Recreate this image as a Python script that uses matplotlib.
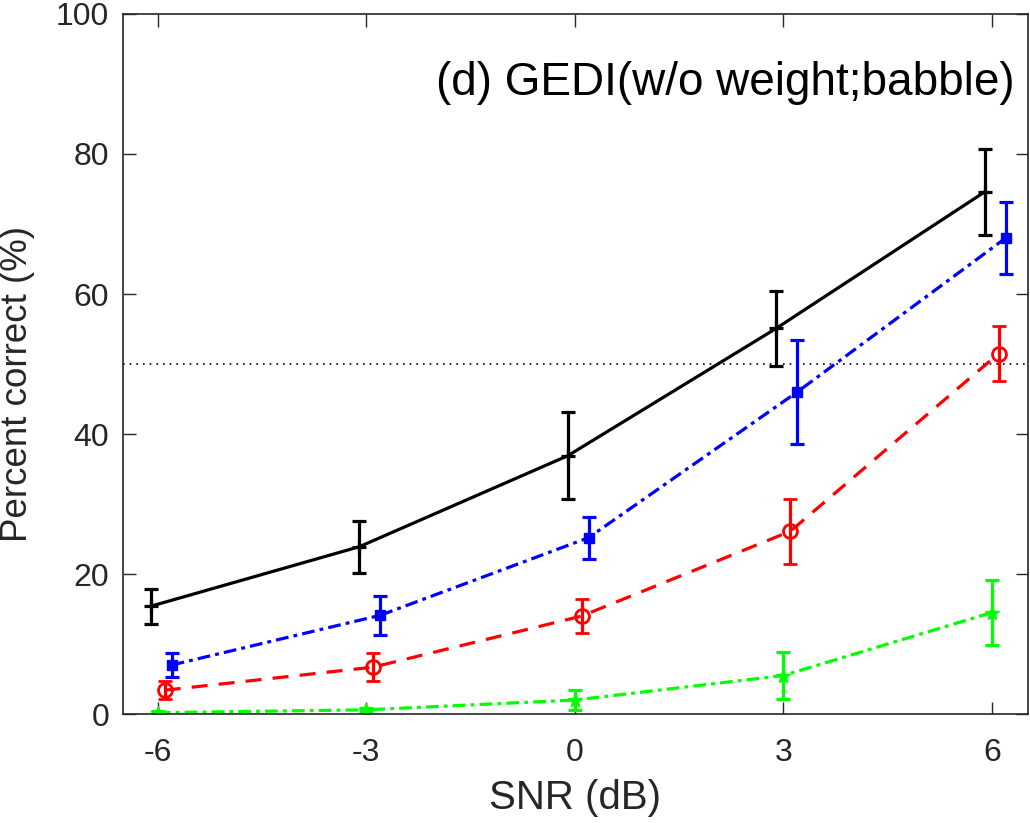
import matplotlib
matplotlib.use('Agg')
import matplotlib.pyplot as plt
import numpy as np

plt.rcParams['font.family'] = ['Liberation Sans', 'DejaVu Sans']

# SNR levels (dB) and percent correct +/- error for each condition
snr = np.array([-6, -3, 0, 3, 6])
snr_labels = ['-6', '-3', '0', '3', '6']

black_mean = [15.4, 23.9, 36.9, 55.1, 74.6]
black_err = [2.5, 3.7, 6.2, 5.4, 6.1]

blue_mean = [7.0, 14.1, 25.2, 46.0, 68.0]
blue_err = [1.7, 2.8, 3.0, 7.4, 5.2]

red_mean = [3.4, 6.7, 14.0, 26.1, 51.5]
red_err = [1.3, 2.0, 2.45, 4.6, 3.9]

green_mean = [0.2, 0.6, 2.0, 5.5, 14.5]
green_err = [0.2, 0.2, 1.4, 3.4, 4.7]

fig = plt.figure(figsize=(10.3, 8.23), dpi=100)
ax = fig.add_axes([0.1194, 0.1324, 0.8786, 0.8506])

ax.axhline(50, color='black', linestyle=(0, (1, 3)), linewidth=1.2, zorder=1)

lw = 2.3
ax.errorbar(snr - 0.1, black_mean, yerr=black_err, color='black',
            linestyle='-', linewidth=lw, marker='+', markersize=10,
            markeredgewidth=lw, capsize=5, capthick=lw, elinewidth=lw)
ax.errorbar(snr + 0.2, blue_mean, yerr=blue_err, color='#0000ff',
            linestyle=(0, (4, 1.6, 1.2, 1.6)), linewidth=lw, marker='s',
            markersize=7, capsize=5, capthick=lw, elinewidth=lw)
ax.errorbar(snr + 0.1, red_mean, yerr=red_err, color='#ff0000',
            linestyle=(0, (5, 3.5)), linewidth=lw, marker='o',
            markersize=10, markerfacecolor='none', markeredgewidth=2,
            capsize=5, capthick=lw, elinewidth=lw)
ax.errorbar(snr, green_mean, yerr=green_err, color='#00ff00',
            linestyle=(0, (4, 1.6, 1.2, 1.6)), linewidth=lw, marker='*',
            markersize=10, capsize=5, capthick=lw, elinewidth=lw)

ax.set_xlim(-6.5, 6.52)
ax.set_ylim(0, 100)
ax.set_xticks(snr)
ax.set_xticklabels(snr_labels)
ax.set_yticks([0, 20, 40, 60, 80, 100])

spine_col = '#262626'
for s in ax.spines.values():
    s.set_color(spine_col)
    s.set_linewidth(1.2)
ax.tick_params(direction='in', length=9, width=1.0, colors=spine_col,
               labelsize=23, top=True, right=True, pad=10)
ax.tick_params(axis='x', pad=17)
for lab in ax.get_xticklabels() + ax.get_yticklabels():
    lab.set_color('#262626')

ax.set_xlabel('SNR (dB)', fontsize=29, color='#262626', labelpad=8)
ax.set_ylabel('Percent correct (%)', fontsize=26.5, color='#262626')
ax.yaxis.set_label_coords(-0.097, 0.471)

ax.text(0.985, 0.901, '(d) GEDI(w/o weight;babble)', transform=ax.transAxes,
        ha='right', va='center', fontsize=33, color='black')

fig.savefig('out.png', dpi=100)
plt.close(fig)
